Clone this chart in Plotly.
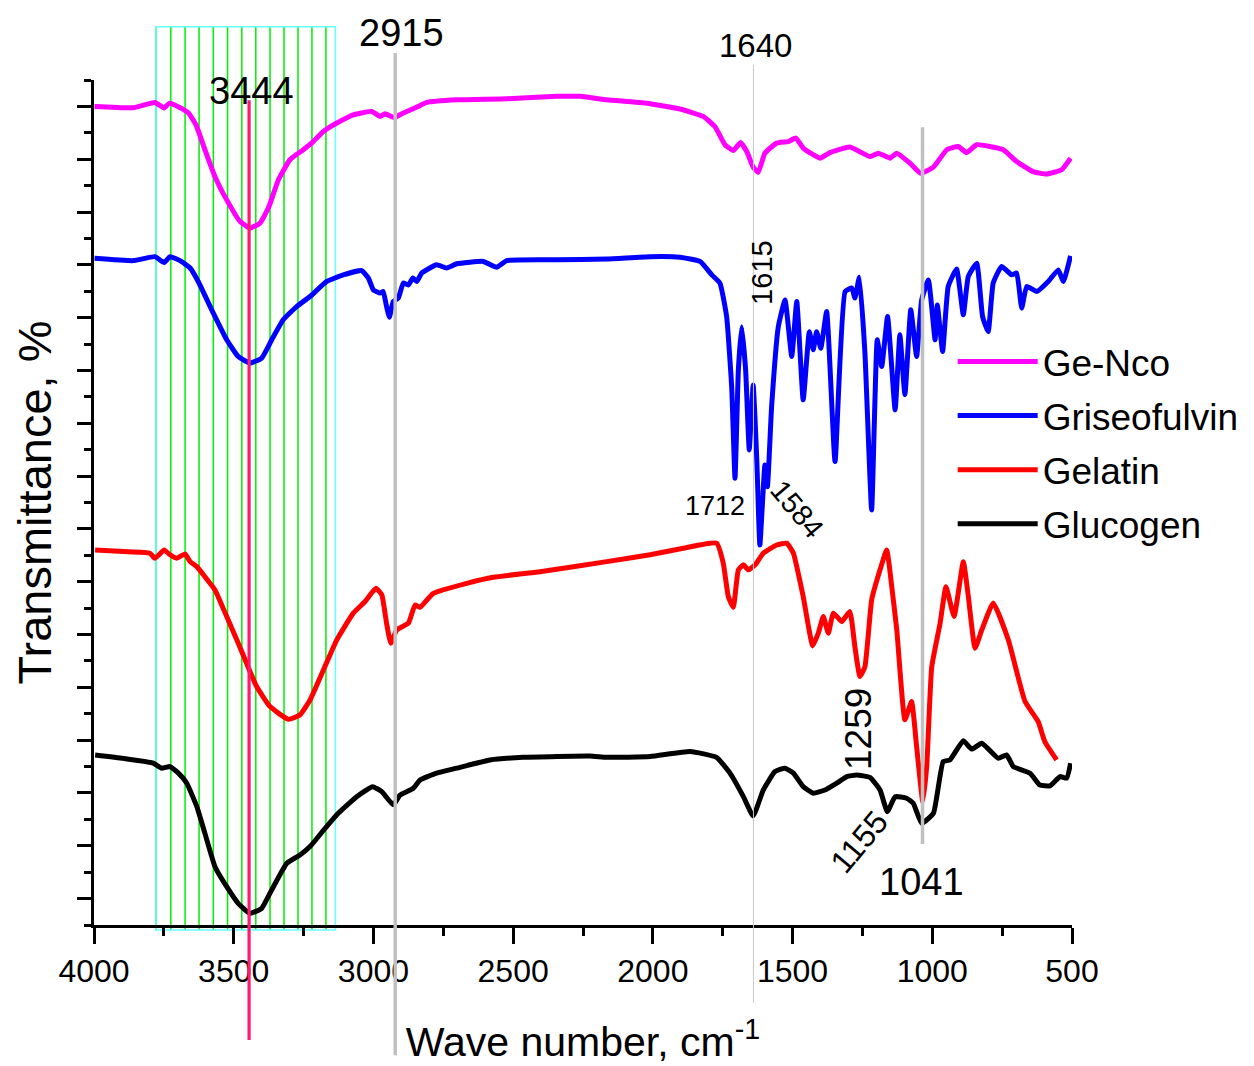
import plotly.graph_objects as go

# ---------------- data (wavenumber cm-1, transmittance in arbitrary offset units) -------------
ge_nco_w = [3998, 3860, 3782, 3749, 3730, 3695, 3662, 3635, 3603, 3567, 3525, 3477, 3442, 3406,
            3376, 3340, 3299, 3251, 3221, 3179, 3131, 3072, 3006, 2976, 2959, 2926, 2893, 2839,
            2809, 2702, 2523, 2344, 2261, 2165, 2022, 1903, 1820, 1778, 1742, 1712, 1686, 1664,
            1641, 1623, 1599, 1557, 1515, 1488, 1462, 1402, 1366, 1295, 1223, 1193, 1151, 1127,
            1080, 1042, 996, 948, 907, 877, 841, 746, 698, 639, 591, 537, 505]
ge_nco_t = [31.0, 30.95, 31.15, 30.94, 31.12, 30.97, 30.75, 30.30, 29.36, 28.34, 27.46, 26.64, 26.39,
            26.58, 27.15, 28.22, 28.98, 29.36, 29.61, 30.05, 30.37, 30.68, 30.81, 30.62, 30.72, 30.58,
            30.75, 31.0, 31.15, 31.25, 31.29, 31.38, 31.38, 31.25, 31.12, 30.90, 30.62, 30.24, 29.55,
            29.33, 29.63, 29.29, 28.70, 28.50, 29.23, 29.61, 29.67, 29.80, 29.42, 29.04, 29.25, 29.46,
            29.10, 29.23, 29.04, 29.23, 28.85, 28.47, 28.70, 29.36, 29.48, 29.25, 29.55, 29.36, 28.91,
            28.53, 28.44, 28.60, 29.04]

griseo_w = [3998, 3859, 3782, 3749, 3728, 3692, 3656, 3627, 3573, 3525, 3484, 3442, 3400, 3364,
            3323, 3275, 3227, 3167, 3108, 3042, 3018, 3000, 2976, 2965, 2953, 2943, 2929, 2911,
            2893, 2875, 2859, 2845, 2827, 2774, 2738, 2702, 2607, 2559, 2523, 2344, 2165, 2010,
            1903, 1831, 1789, 1760, 1736, 1718, 1706, 1694, 1682, 1668, 1655, 1641, 1628, 1617,
            1599, 1590, 1575, 1551, 1527, 1503, 1485, 1462, 1440, 1426, 1414, 1399, 1378, 1348,
            1312, 1288, 1277, 1261, 1241, 1217, 1197, 1181, 1160, 1133, 1116, 1098, 1077, 1056,
            1038, 1014, 990, 982, 963, 943, 913, 889, 871, 841, 820, 800, 782, 752, 716, 698,
            680, 662, 626, 585, 549, 531, 505]
griseo_t = [25.25, 25.16, 25.31, 25.09, 25.31, 25.16, 24.88, 24.37, 23.17, 22.16, 21.53, 21.28, 21.47,
            22.16, 22.92, 23.42, 23.80, 24.37, 24.62, 24.78, 24.50, 24.05, 23.93, 23.99, 23.42, 23.02,
            23.61, 23.74, 24.31, 24.24, 24.50, 24.37, 24.69, 25.0, 24.88, 25.04, 25.13, 24.91, 25.16,
            25.19, 25.22, 25.31, 25.29, 25.13, 24.62, 24.31, 23.04, 20.39, 16.92, 21.02, 22.66, 21.02,
            17.99, 20.45, 17.61, 14.39, 17.42, 16.60, 19.63, 22.66, 23.67, 21.53, 23.61, 19.89, 22.47,
            21.78, 22.47, 21.84, 23.23, 17.55, 23.99, 24.12, 23.74, 24.53, 21.66, 15.72, 22.16, 21.15,
            23.04, 19.51, 22.35, 20.08, 23.30, 21.53, 23.67, 24.43, 22.16, 23.48, 21.72, 24.18, 24.84,
            23.11, 24.56, 25.06, 23.04, 22.47, 24.31, 24.94, 24.62, 24.69, 23.36, 24.18, 23.99, 24.37,
            24.81, 24.37, 25.34]

gelatin_w = [3996, 3895, 3800, 3782, 3749, 3728, 3704, 3674, 3656, 3632, 3603, 3567, 3525, 3489,
             3454, 3418, 3370, 3305, 3263, 3227, 3179, 3131, 3072, 3030, 2991, 2970, 2953, 2938,
             2917, 2875, 2851, 2833, 2786, 2666, 2571, 2404, 2165, 2010, 1891, 1772, 1748, 1730,
             1712, 1694, 1676, 1658, 1634, 1605, 1557, 1521, 1497, 1462, 1428, 1408, 1390, 1372,
             1354, 1324, 1295, 1277, 1259, 1241, 1217, 1187, 1163, 1145, 1127, 1098, 1074, 1056,
             1034, 1020, 1002, 972, 951, 922, 889, 871, 847, 823, 782, 728, 668, 621, 597, 555]
gelatin_t = [14.20, 14.14, 14.08, 13.89, 14.20, 14.02, 13.89, 14.05, 13.76, 13.57, 13.19, 12.69, 11.68,
             10.80, 9.91, 9.03, 8.27, 7.79, 7.95, 8.52, 9.66, 10.80, 11.81, 12.25, 12.75, 12.50, 11.43,
             10.67, 11.17, 11.43, 12.12, 12.03, 12.56, 12.94, 13.17, 13.38, 13.76, 14.02, 14.27, 14.46,
             13.70, 12.44, 12.03, 13.45, 13.64, 13.45, 13.64, 14.08, 14.39, 14.46, 14.08, 12.44, 10.57,
             11.05, 11.68, 11.05, 11.81, 11.49, 11.87, 10.54, 9.41, 9.78, 12.31, 13.45, 14.20, 12.81,
             11.17, 7.77, 8.46, 6.75, 4.67, 6.00, 9.78, 11.43, 12.81, 11.68, 13.76, 12.44, 10.48, 11.17,
             12.19, 10.80, 8.46, 7.70, 6.94, 6.25]

glucogen_w = [3996, 3895, 3788, 3758, 3728, 3698, 3668, 3632, 3603, 3567, 3525, 3484, 3442, 3400,
              3364, 3310, 3263, 3227, 3173, 3126, 3060, 3003, 2970, 2929, 2905, 2857, 2833, 2774,
              2702, 2583, 2464, 2225, 2165, 2010, 1867, 1772, 1724, 1676, 1641, 1605, 1563, 1527,
              1497, 1462, 1426, 1384, 1342, 1306, 1271, 1223, 1187, 1161, 1133, 1092, 1068, 1038,
              996, 961, 937, 889, 859, 823, 764, 734, 710, 650, 615, 579, 543, 519, 505]
glucogen_t = [6.44, 6.31, 6.13, 5.94, 6.00, 5.75, 5.37, 4.48, 3.47, 2.21, 1.45, 0.82, 0.44, 0.63, 1.33,
              2.34, 2.65, 2.97, 3.66, 4.23, 4.86, 5.24, 5.05, 4.55, 4.92, 5.18, 5.49, 5.75, 5.94, 6.25,
              6.35, 6.40, 6.35, 6.38, 6.57, 6.35, 5.75, 4.86, 4.13, 5.11, 5.81, 5.94, 5.75, 5.24, 4.99,
              5.11, 5.37, 5.62, 5.68, 5.59, 5.11, 4.29, 4.86, 4.80, 4.61, 3.85, 4.23, 6.19, 6.25, 6.98,
              6.66, 6.88, 6.31, 6.44, 6.00, 5.75, 5.30, 5.27, 5.62, 5.56, 6.13]

series_names = ["Ge-Nco", "Griseofulvin", "Gelatin", "Glucogen"]
series_colors = ["#ff00ff", "#0000ff", "#ff0000", "#000000"]

x_tick_vals = [4000, 3500, 3000, 2500, 2000, 1500, 1000, 500]
x_minor_vals = [3750, 3250, 2750, 2250, 1750, 1250, 750]

# marker lines (wavenumbers)
band_lines = [3778, 3725, 3674, 3624, 3573, 3522, 3471, 3421, 3370, 3320, 3270, 3220, 3170]
band_box = (3778, 3136)
peak_3444 = 3445
peak_2915 = 2922
peak_1640 = 1640
peak_1041 = 1035

FONT = "Liberation Sans, Arial, sans-serif"

fig = go.Figure()
for name, col, xs, ys in zip(series_names, series_colors,
                             [ge_nco_w, griseo_w, gelatin_w, glucogen_w],
                             [ge_nco_t, griseo_t, gelatin_t, glucogen_t]):
    fig.add_trace(go.Scatter(x=xs, y=ys, mode="lines", name=name, legendgroup=name,
                             line=dict(color=col, width=5, shape="spline", smoothing=0.4)))

shapes = []
for w in band_lines:
    shapes.append(dict(type="line", xref="x", yref="paper", x0=w, x1=w, y0=-0.006, y1=1.063,
                       line=dict(color="#00ee00", width=1.5), layer="below"))
shapes.append(dict(type="rect", xref="x", yref="paper", x0=band_box[0], x1=band_box[1],
                   y0=-0.006, y1=1.063, line=dict(color="#66ffff", width=1.5), layer="below"))
shapes.append(dict(type="line", xref="x", yref="paper", x0=peak_2915, x1=peak_2915, y0=-0.154, y1=1.032,
                   line=dict(color="#c0c0c0", width=3.5), layer="above"))
shapes.append(dict(type="line", xref="x", yref="paper", x0=peak_1640, x1=peak_1640, y0=-0.092, y1=1.018,
                   line=dict(color="#c8c8c8", width=1), layer="above"))
shapes.append(dict(type="line", xref="x", yref="paper", x0=peak_1041, x1=peak_1041, y0=0.096, y1=0.944,
                   line=dict(color="#c0c0c0", width=3.5), layer="above"))
shapes.append(dict(type="line", xref="x", yref="paper", x0=peak_3444, x1=peak_3444, y0=-0.136, y1=0.976,
                   line=dict(color="#ff1a70", width=3.2), layer="above"))

annotations = [
    dict(text="2915", x=2898, y=1.0556, xref="x", yref="paper", font=dict(size=38)),
    dict(text="3444", x=3435, y=0.987, xref="x", yref="paper", font=dict(size=38)),
    dict(text="1640", x=1631, y=1.041, xref="x", yref="paper", font=dict(size=33)),
    dict(text="1615", x=1609, y=24.7, xref="x", yref="y", textangle=-90, font=dict(size=29)),
    dict(text="1712", x=1778, y=15.87, xref="x", yref="y", font=dict(size=27)),
    dict(text="1584", x=1484, y=15.76, xref="x", yref="y", textangle=50, font=dict(size=29)),
    dict(text="1259", x=1266, y=7.42, xref="x", yref="y", textangle=-90, font=dict(size=37)),
    dict(text="1155", x=1262, y=3.14, xref="x", yref="y", textangle=-50, font=dict(size=32)),
    dict(text="1041", x=1037, y=1.63, xref="x", yref="y", font=dict(size=38)),
]
for a in annotations:
    a.update(showarrow=False, xanchor="center", yanchor="middle")
    a["font"].update(color="black", family=FONT)

fig.update_layout(
    width=1246, height=1058,
    margin=dict(l=86, r=182, t=72, b=141, autoexpand=False),
    paper_bgcolor="white", plot_bgcolor="white",
    shapes=shapes, annotations=annotations,
    showlegend=True,
    legend=dict(x=0.878, y=0.703, xanchor="left", yanchor="top", bgcolor="rgba(0,0,0,0)",
                font=dict(size=37, family=FONT, color="black"), itemwidth=80,
                tracegroupgap=3),
    xaxis=dict(range=[4000, 500], showline=True, linecolor="black", linewidth=2.5,
               ticks="outside", tickvals=x_tick_vals, ticklen=16, tickwidth=2.5, tickcolor="black",
               minor=dict(tickvals=x_minor_vals, ticks="outside", ticklen=8, tickwidth=2.5,
                          tickcolor="black"),
               showgrid=False, zeroline=False,
               tickfont=dict(size=32, family=FONT, color="black"),
               title=dict(text="Wave number, cm<sup>-1</sup>", standoff=40,
                          font=dict(size=41, family=FONT, color="black"))),
    yaxis=dict(range=[0, 32], showline=True, linecolor="black", linewidth=2.5,
               ticks="outside", tick0=1, dtick=2, ticklen=14, tickwidth=2.5, tickcolor="black",
               minor=dict(tick0=0, dtick=1, ticks="outside", ticklen=7, tickwidth=2.5,
                          tickcolor="black"),
               showticklabels=False, showgrid=False, zeroline=False,
               title=dict(text="Transmittance, %", standoff=24,
                          font=dict(size=47, family=FONT, color="black"))),
)

fig.write_html("out.html")
